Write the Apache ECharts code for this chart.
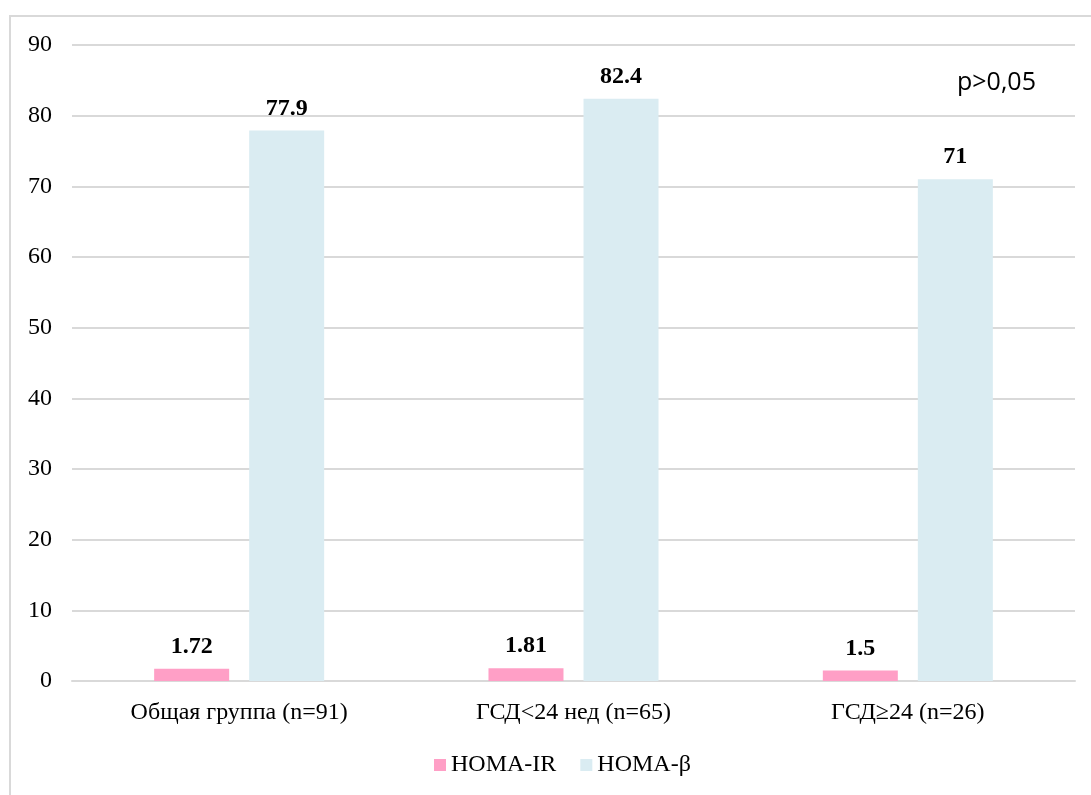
<!DOCTYPE html>
<html>
<head>
<meta charset="utf-8">
<script src="https://cdn.jsdelivr.net/npm/echarts@6/dist/echarts.min.js"></script>
<style>
  html, body { margin: 0; padding: 0; background: #fff; }
  #frame { position: absolute; left: 9px; top: 15px; width: 1090px; height: 790px; border: 2px solid #d9d9d9; box-sizing: border-box; }
  #chart { position: absolute; left: 0; top: 0; width: 1091px; height: 795px; }
</style>
</head>
<body>
<div id="frame"></div>
<div id="chart"></div>
<script>
const categories = ['Общая группа (n=91)', 'ГСД<24 нед (n=65)', 'ГСД≥24 (n=26)'];
const homaIR = [1.72, 1.81, 1.5];
const homaBeta = [77.9, 82.4, 71];
const seriesNames = ['HOMA-IR', 'HOMA-β'];
const noteText = 'p>0,05';

const chart = echarts.init(document.getElementById('chart'), null, { renderer: 'canvas' });
const serif = '"Liberation Serif", "DejaVu Serif", serif';
const labelStyle = {
  show: true,
  position: 'top',
  distance: 10,
  fontFamily: serif,
  fontWeight: 'bold',
  fontSize: 24,
  color: '#000'
};

chart.setOption({
  animation: false,
  grid: { left: 72, right: 16, top: 45, bottom: 114, containLabel: false },
  legend: {
    bottom: 13,
    left: 429,
    itemWidth: 12,
    itemHeight: 12,
    itemGap: 24,
    icon: 'rect',
    textStyle: { fontFamily: serif, fontSize: 24, color: '#000' },
    data: seriesNames
  },
  xAxis: {
    type: 'category',
    data: categories,
    axisLine: { show: true, lineStyle: { color: '#d9d9d9', width: 2 } },
    axisTick: { show: false },
    axisLabel: { fontFamily: serif, fontSize: 24, color: '#000', margin: 20 }
  },
  yAxis: {
    type: 'value',
    min: 0,
    max: 90,
    interval: 10,
    axisLine: { show: false },
    axisTick: { show: false },
    splitLine: { lineStyle: { color: '#d9d9d9', width: 2 } },
    axisLabel: { fontFamily: serif, fontSize: 24, color: '#000', margin: 20 }
  },
  graphic: [{
    type: 'text',
    left: 957,
    top: 70,
    style: { text: noteText, fontFamily: '"Open Sans", "Liberation Sans", sans-serif', fontSize: 25, fill: '#000' }
  }],
  series: [
    {
      name: seriesNames[0],
      type: 'bar',
      data: homaIR,
      barWidth: 75,
      barGap: '26.7%',
      itemStyle: { color: '#FF9FC6' },
      label: labelStyle
    },
    {
      name: seriesNames[1],
      type: 'bar',
      data: homaBeta,
      barWidth: 75,
      itemStyle: { color: '#DAECF2' },
      label: labelStyle
    }
  ]
});
</script>
</body>
</html>
